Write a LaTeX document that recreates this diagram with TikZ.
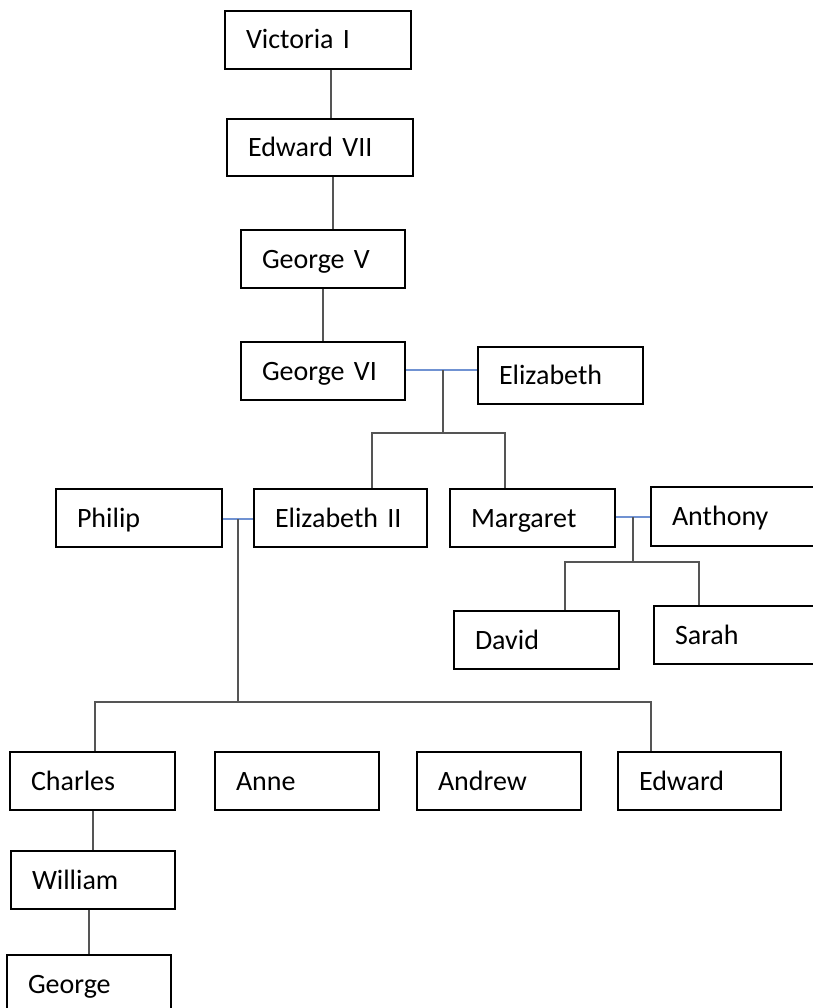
\documentclass[tikz,border=0pt]{standalone}
\usepackage{fontspec}
\setmainfont{Carlito}
\usetikzlibrary{calc}
\definecolor{linkgray}{RGB}{85,85,85}
\definecolor{marblue}{RGB}{112,146,210}
\tikzset{
  person/.style={draw=black, line width=1.6pt, inner xsep=21pt, inner ysep=0pt,
    minimum height=58pt, text height=18pt, text depth=0pt, align=left,
    font=\fontsize{28}{33}\selectfont, text width=#1},
  person/.default=122pt,
  link/.style={draw=linkgray, line width=1.1pt},
  wed/.style={draw=marblue, line width=1.1pt}
}
\begin{document}
\begin{tikzpicture}[x=1pt,y=-1pt]
\useasboundingbox (0,0) rectangle (812,1008);
% nodes
\node[person=144pt] (vic) at (318,40) {Victoria I};
\node[person=144pt, minimum height=57pt] (ed7) at (320,147.5) {Edward VII};
\node[person=122pt] (g5) at (323,259) {George V};
\node[person=122pt] (g6) at (323,371) {George VI};
\node[person=123pt, minimum height=57pt] (eliz) at (560.5,375.5) {Elizabeth};
\node[person=124pt] (phil) at (139,518) {Philip};
\node[person=131pt] (e2) at (340.5,518) {Elizabeth II};
\node[person=123pt] (marg) at (532.5,518) {Margaret};
\node[person=122pt, minimum height=59pt] (anth) at (733,516.5) {Anthony};
\node[person=123pt] (david) at (536.5,640) {David};
\node[person=122pt] (sarah) at (736,635) {Sarah};
\node[person=123pt] (charles) at (92.5,781) {Charles};
\node[person=122pt] (anne) at (297,781) {Anne};
\node[person=122pt] (andrew) at (499,781) {Andrew};
\node[person=121pt] (edward) at (699.5,781) {Edward};
\node[person=122pt] (william) at (93,880) {William};
\node[person=122pt] (george) at (89,984) {George};
% junction coordinates
\coordinate (m1) at (443,370);
\coordinate (j1) at (443,433);
\coordinate (m2) at (238,519);
\coordinate (j2) at (238,702);
\coordinate (m3) at (633,517);
\coordinate (j3) at (633,562);
% line of descent
\draw[link] ($(vic.south)+(13,0)$) -- ($(ed7.north)+(11,0)$);
\draw[link] ($(ed7.south)+(13,0)$) -- ($(g5.north)+(10,0)$);
\draw[link] (g5.south) -- (g6.north);
% George VI + Elizabeth
\draw[wed] (g6.east |- m1) -- (eliz.west |- m1);
\draw[link] (m1) -- (j1);
\draw[link] (e2.north -| 372,0) |- (j1) -| (marg.north -| 505,0);
% Philip + Elizabeth II
\draw[wed] (phil.east |- m2) -- (e2.west |- m2);
\draw[link] (m2) -- (j2);
\draw[link] (charles.north -| 95,0) |- (j2) -| (edward.north -| 651,0);
\draw[link] (anne.north -| 279,0) -- (anne.north -| 279,702);
\draw[link] (andrew.north -| 485,0) -- (andrew.north -| 485,702);
% Margaret + Anthony
\draw[wed] (marg.east |- m3) -- (anth.west |- m3);
\draw[link] (m3) -- (j3);
\draw[link] (david.north -| 565,0) |- (j3) -| (sarah.north -| 699,0);
% Charles - William - George
\draw[link] (charles.south -| 93,0) -- (william.north -| 93,0);
\draw[link] (william.south -| 89,0) -- (george.north -| 89,0);
\end{tikzpicture}
\end{document}
